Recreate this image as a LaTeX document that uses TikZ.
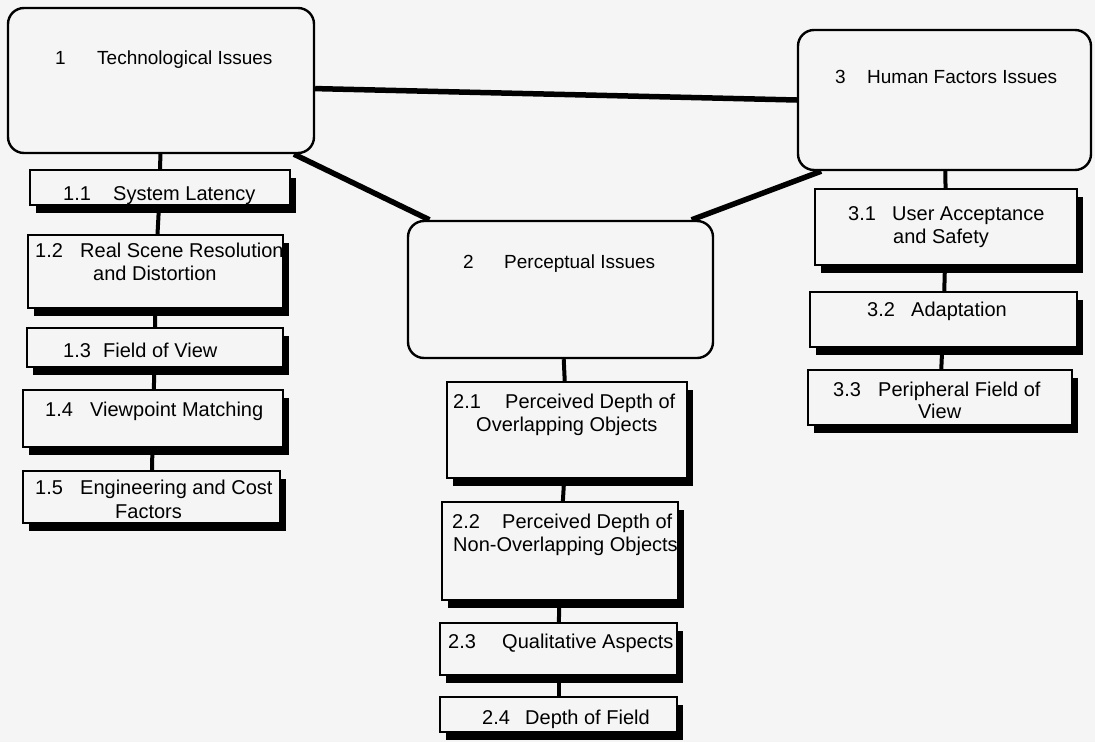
\documentclass[tikz,border=0pt]{standalone}
\usepackage{fontspec}
\setmainfont{Liberation Sans}
\usetikzlibrary{fit,shadows,backgrounds}
\definecolor{paper}{gray}{0.96}

\begin{document}
\begin{tikzpicture}[x=1pt,y=-1pt,
  issue/.style={draw,line width=2.4pt,rounded corners=16pt,fill=paper,inner sep=0pt},
  topic/.style={draw,line width=2pt,fill=paper,inner sep=0pt,
    drop shadow={shadow xshift=6pt,shadow yshift=-8pt,fill=black,opacity=1}},
  lbl/.style={anchor=base west,inner sep=0pt,font=\fontsize{20}{24}\selectfont},
  head/.style={lbl,font=\fontsize{19}{23}\selectfont},
  branch/.style={line width=5.5pt},
  stem/.style={line width=4pt}]

% main issues
\foreach \nm/\xa/\ya/\xb/\yb in {b1/8/8/314/153, b3/798/30/1091/170, b2/408/221/713/358}
  \node[issue, fit={(\xa,\ya) (\xb,\yb)}] (\nm) {};

% sub topics
\foreach \nm/\xa/\ya/\xb/\yb in {
    s11/30/170/290/205, s12/28/235/283/308, s13/27/328/283/367,
    s14/23/390/283/447, s15/23/471/280/523,
    s31/815/189/1077/265, s32/810/292/1077/347, s33/808/370/1072/425,
    s21/447/382/687/478, s22/442/502/678/600, s23/440/623/677/675,
    s24/440/697/677/732}
  \node[topic, fit={(\xa,\ya) (\xb,\yb)}] (\nm) {};

% headings
\foreach \nm/\x/\y/\txt in {n1/55/64/1, t1/97/64/Technological Issues,
    n3/835/83/3, t3/867/83/Human Factors Issues,
    n2/463/268/2, t2/504/268/Perceptual Issues}
  \node[head] (\nm) at (\x,\y) {\txt};

\foreach \nm/\x/\y/\txt in {
    n11/63/200/1.1, t11/113/200/System Latency,
    n12/35/257/1.2, t12/80/257/Real Scene Resolution, u12/93/280/and Distortion,
    n13/63/357/1.3, t13/103/357/Field of View,
    n14/45/416/1.4, t14/90/416/Viewpoint Matching,
    n15/35/494/1.5, t15/80/494/Engineering and Cost, u15/115/518/Factors,
    n31/848/220/3.1, t31/892/220/User Acceptance, u31/893/243/and Safety,
    n32/867/316/3.2, t32/911/316/Adaptation,
    n33/833/396/3.3, t33/878/396/Peripheral Field of, u33/918/418/View,
    n21/453/408/2.1, t21/505/408/Perceived Depth of, u21/476/431/Overlapping Objects,
    n22/452/528/2.2, t22/502/528/Perceived Depth of, u22/453/551/Non-Overlapping Objects,
    n23/448/648/2.3, t23/502/648/Qualitative Aspects,
    n24/482/724/2.4, t24/525/724/Depth of Field}
  \node[lbl] (\nm) at (\x,\y) {\txt};

\begin{pgfonlayer}{background}
\fill[paper, use as bounding box] (0,0) rectangle (1095,742);
\draw[branch] (b1.-3) -- (b3.west);
\draw[branch] (b1.-29) -- (b2.152);
\draw[branch] (b3.-150) -- (b2.28);
\foreach \a/\b in {b1/s11, s11/s12, s12/s13, s13/s14, s14/s15,
    b3/s31, s31/s32, s32/s33, b2/s21, s21/s22, s22/s23, s23/s24}
  \draw[stem] (\a) -- (\b);
\end{pgfonlayer}
\end{tikzpicture}
\end{document}
